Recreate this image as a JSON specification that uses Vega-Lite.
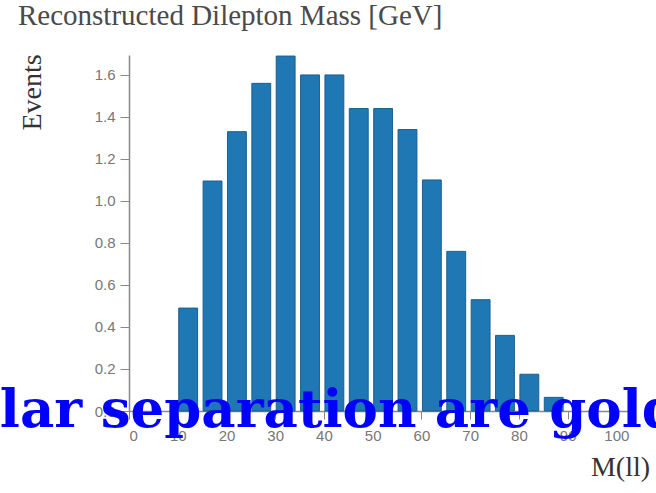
{
  "$schema": "https://vega.github.io/schema/vega-lite/v6.json",
  "autosize": {"type": "none"},
  "width": 502,
  "height": 356,
  "padding": {"left": 129, "top": 55, "right": 25, "bottom": 82},
  "background": "white",
  "title": {
    "text": "Reconstructed Dilepton Mass [GeV]",
    "anchor": "start",
    "frame": "group",
    "dx": -111,
    "offset": 0,
    "baseline": "alphabetic",
    "font": "Liberation Serif",
    "fontSize": 29,
    "fontWeight": "normal",
    "color": "#4a4a4a"
  },
  "config": {"view": {"stroke": null}},
  "layer": [
    {
      "data": {
        "values": [
          {"bin_start": 10, "bin_end": 15, "events": 0.49},
          {"bin_start": 15, "bin_end": 20, "events": 1.095},
          {"bin_start": 20, "bin_end": 25, "events": 1.33},
          {"bin_start": 25, "bin_end": 30, "events": 1.56},
          {"bin_start": 30, "bin_end": 35, "events": 1.69},
          {"bin_start": 35, "bin_end": 40, "events": 1.6},
          {"bin_start": 40, "bin_end": 45, "events": 1.6},
          {"bin_start": 45, "bin_end": 50, "events": 1.44},
          {"bin_start": 50, "bin_end": 55, "events": 1.44},
          {"bin_start": 55, "bin_end": 60, "events": 1.34},
          {"bin_start": 60, "bin_end": 65, "events": 1.1},
          {"bin_start": 65, "bin_end": 70, "events": 0.76},
          {"bin_start": 70, "bin_end": 75, "events": 0.53},
          {"bin_start": 75, "bin_end": 80, "events": 0.36},
          {"bin_start": 80, "bin_end": 85, "events": 0.175},
          {"bin_start": 85, "bin_end": 90, "events": 0.065}
        ]
      },
      "mark": {"type": "bar", "color": "#1f77b4", "stroke": "#1a5f8f", "strokeWidth": 1, "xOffset": 1, "x2Offset": -4.5},
      "encoding": {
        "x": {
          "field": "bin_start",
          "type": "quantitative",
          "scale": {"domain": [0, 103], "nice": false, "zero": false},
          "axis": {
            "values": [0, 10, 20, 30, 40, 50, 60, 70, 80, 90, 100],
            "format": "d",
            "title": "M(ll)",
            "titleFont": "Liberation Serif",
            "titleFontSize": 28,
            "titleFontWeight": "normal",
            "titleColor": "#333333",
            "titleX": 491,
            "titleY": 64,
            "titleAlign": "center",
            "titleBaseline": "alphabetic",
            "labelFont": "Liberation Sans",
            "labelFontSize": 15,
            "labelColor": "#777777",
            "tickSize": 8,
            "tickColor": "#888888",
            "domainColor": "#888888",
            "domainWidth": 1.5,
            "labelPadding": 9,
            "grid": false
          }
        },
        "x2": {"field": "bin_end"},
        "y": {
          "field": "events",
          "type": "quantitative",
          "scale": {"domain": [0, 1.695], "nice": false},
          "axis": {
            "values": [0, 0.2, 0.4, 0.6, 0.8, 1.0, 1.2, 1.4, 1.6],
            "format": ".1f",
            "title": "Events",
            "titleFont": "Liberation Serif",
            "titleFontSize": 28,
            "titleFontWeight": "normal",
            "titleColor": "#333333",
            "titleAngle": -90,
            "titleX": -89,
            "titleY": 37,
            "titleAlign": "center",
            "titleBaseline": "alphabetic",
            "labelFont": "Liberation Sans",
            "labelFontSize": 15,
            "labelColor": "#777777",
            "tickSize": 9,
            "tickColor": "#888888",
            "domainColor": "#888888",
            "domainWidth": 1.5,
            "labelPadding": 5,
            "grid": false
          }
        },
        "y2": {"datum": 0}
      }
    },
    {
      "data": {"values": [{"caption": "lar separation are golden", "cx": -26.5, "cy": -0.076}]},
      "mark": {
        "type": "text",
        "align": "left",
        "baseline": "alphabetic",
        "font": "DejaVu Serif",
        "fontWeight": "bold",
        "fontSize": 53,
        "color": "#0000ff"
      },
      "encoding": {
        "x": {"field": "cx", "type": "quantitative"},
        "y": {"field": "cy", "type": "quantitative"},
        "text": {"field": "caption"}
      }
    }
  ]
}
